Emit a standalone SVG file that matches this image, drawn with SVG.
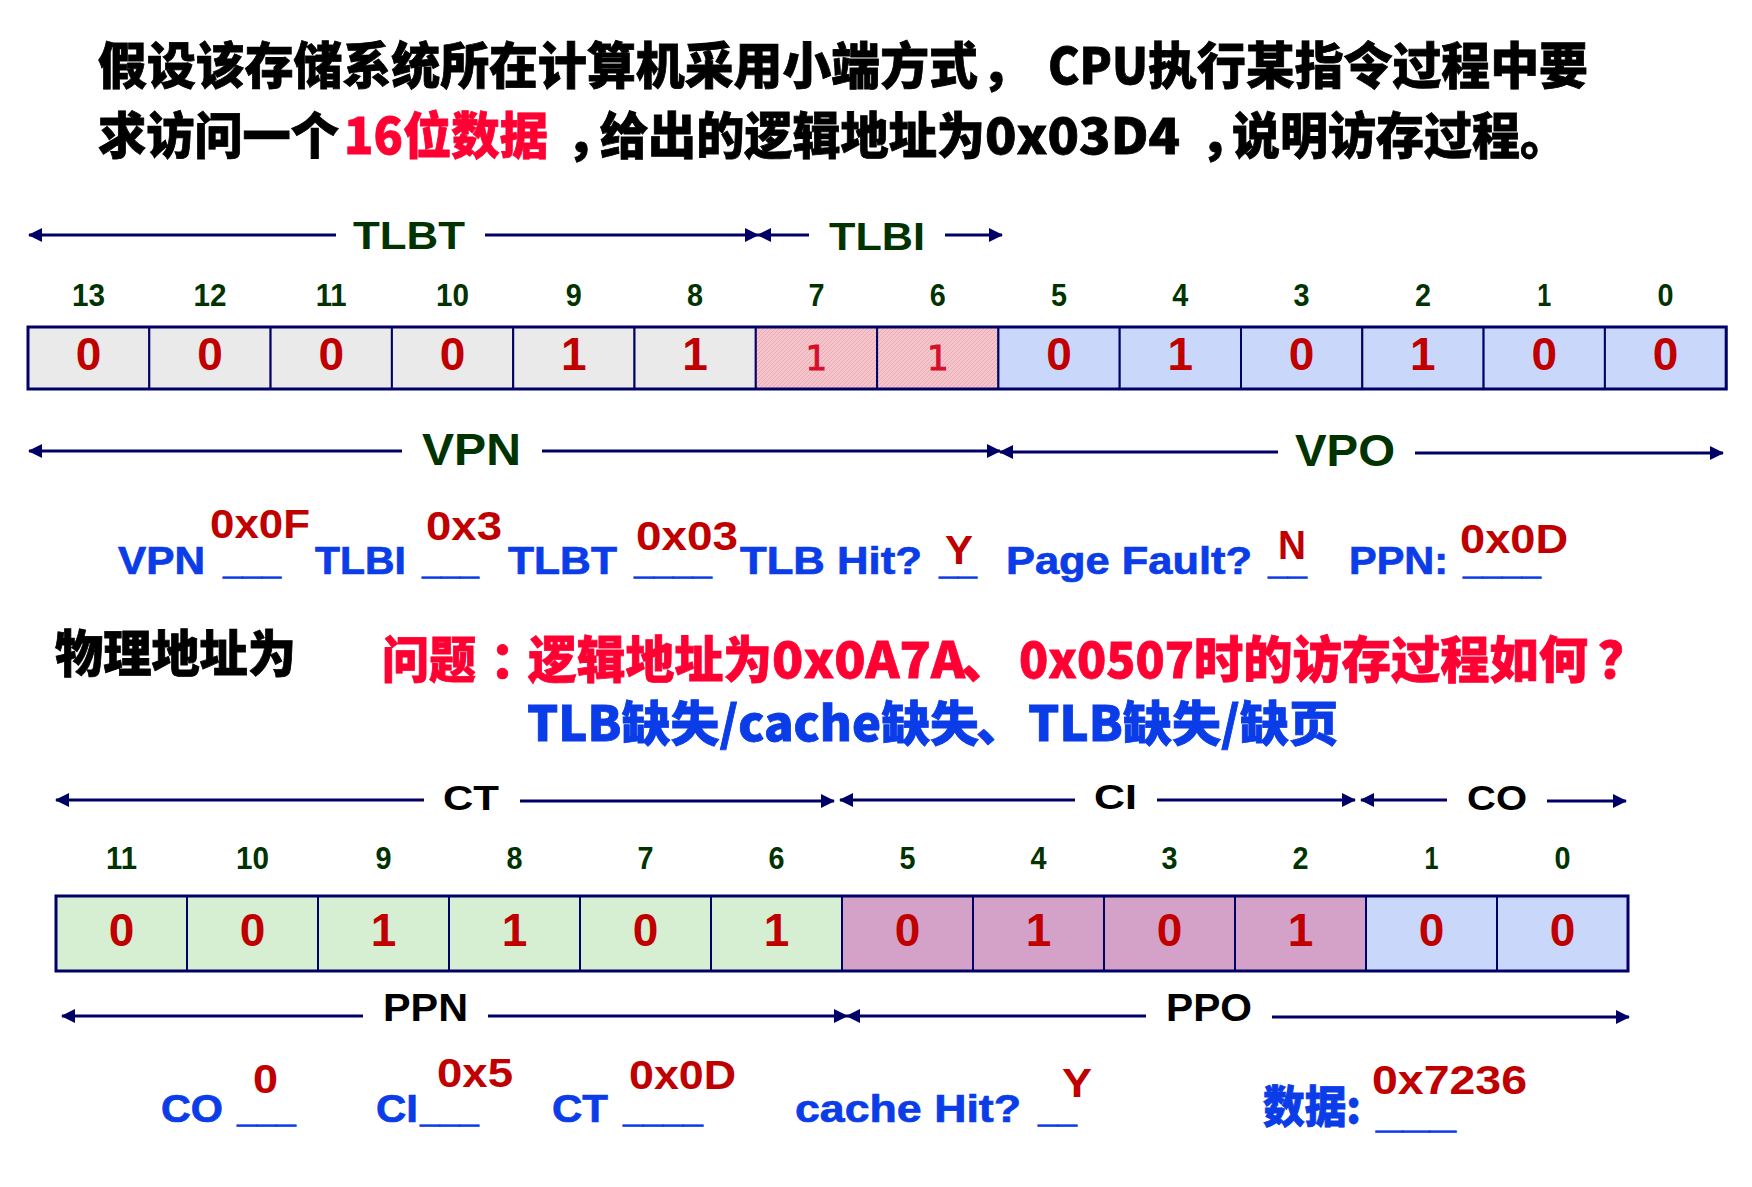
<svg xmlns="http://www.w3.org/2000/svg" width="1752" height="1187" viewBox="0 0 1752 1187">
<defs>
<style>
.cjk{font-family:"Noto Sans CJK SC","Noto Sans CJK TC",sans-serif;font-weight:900;stroke-width:0.8}
.tk{fill:#000000;stroke:#000000}
.tr{fill:#FF0033;stroke:#FF0033}
.tb{fill:#0A3CE8;stroke:#0A3CE8}
.hg{font-family:"Liberation Sans",Arial,sans-serif;font-weight:700;fill:#003300}
.hk{font-family:"Liberation Sans",Arial,sans-serif;font-weight:700;fill:#000000}
.num{font-family:"Liberation Sans",Arial,sans-serif;font-weight:700;font-size:31px;fill:#003300;text-anchor:middle}
.bit{font-family:"Liberation Sans",Arial,sans-serif;font-weight:700;font-size:46px;fill:#C00000;text-anchor:middle}
.bitp{font-family:"DejaVu Sans",sans-serif;font-size:34px;fill:#D4102A;stroke:#D4102A;stroke-width:1;text-anchor:middle}
.blue{font-family:"Liberation Sans",Arial,sans-serif;font-weight:700;font-size:39px;fill:#0A3CE8;stroke:#0A3CE8;stroke-width:0.7}
.ans{font-family:"Liberation Sans",Arial,sans-serif;font-weight:700;font-size:40px;fill:#C00000}
.cell{stroke:#000066;stroke-width:2}
.gray{fill:#EAEAEA}
.lblue{fill:#C9D7FB}
.green{fill:#D6EFD3}
.mauve{fill:#D4A2C8}
.pink{fill:url(#pinkhatch)}
.frame{fill:none;stroke:#000066;stroke-width:3}
.arr{stroke:#000066;stroke-width:3;fill:none}
</style>
<pattern id="pinkhatch" width="4" height="4" patternUnits="userSpaceOnUse">
<rect width="4" height="4" fill="#F5C5CC"/>
<path d="M0,4 L4,0 M-1,1 L1,-1 M3,5 L5,3" stroke="#EBAAB4" stroke-width="1"/>
</pattern>
<marker id="ah" viewBox="0 0 14 14" markerWidth="14" markerHeight="14" refX="13" refY="7" markerUnits="userSpaceOnUse" orient="auto-start-reverse">
<path d="M0,0 L14,7 L0,14 z" fill="#000066"/>
</marker>
</defs>
<rect width="1752" height="1187" fill="#FFFFFF"/>

<g id="title">
<text class="cjk tk" font-size="50" x="98" y="84" textLength="880" lengthAdjust="spacingAndGlyphs">假设该存储系统所在计算机采用小端方式</text>
<text class="cjk tk" font-size="50" x="981" y="84">，</text>
<text class="cjk tk" font-size="50" x="1048" y="84" textLength="100" lengthAdjust="spacingAndGlyphs">CPU</text>
<text class="cjk tk" font-size="50" x="1148" y="84" textLength="440" lengthAdjust="spacingAndGlyphs">执行某指令过程中要</text>
<text class="cjk tk" font-size="50" x="98" y="154" textLength="241" lengthAdjust="spacingAndGlyphs">求访问一个</text>
<text class="cjk tr" font-size="50" x="344" y="154" textLength="204" lengthAdjust="spacingAndGlyphs">16位数据</text>
<text class="cjk tk" font-size="50" x="566" y="154">，</text>
<text class="cjk tk" font-size="50" x="600" y="154" textLength="385" lengthAdjust="spacingAndGlyphs">给出的逻辑地址为</text>
<text class="cjk tk" font-size="50" x="985" y="154" textLength="195" lengthAdjust="spacingAndGlyphs">0x03D4</text>
<text class="cjk tk" font-size="50" x="1200" y="154">，</text>
<text class="cjk tk" font-size="50" x="1232" y="154" textLength="336" lengthAdjust="spacingAndGlyphs">说明访存过程。</text>
</g>

<g id="connectors">
<line class="arr" x1="29" y1="235" x2="336" y2="235" marker-start="url(#ah)"/>
<line class="arr" x1="485" y1="235" x2="758" y2="235" marker-end="url(#ah)"/>
<line class="arr" x1="758" y1="235" x2="809" y2="235" marker-start="url(#ah)"/>
<line class="arr" x1="945" y1="235" x2="1002" y2="235" marker-end="url(#ah)"/>

<line class="arr" x1="29" y1="451" x2="402" y2="451" marker-start="url(#ah)"/>
<line class="arr" x1="542" y1="451" x2="1000" y2="451" marker-end="url(#ah)"/>
<line class="arr" x1="1000" y1="452" x2="1278" y2="452" marker-start="url(#ah)"/>
<line class="arr" x1="1415" y1="453" x2="1723" y2="453" marker-end="url(#ah)"/>

<line class="arr" x1="56" y1="800" x2="424" y2="800" marker-start="url(#ah)"/>
<line class="arr" x1="520" y1="801" x2="834" y2="801" marker-end="url(#ah)"/>
<line class="arr" x1="840" y1="800" x2="1075" y2="800" marker-start="url(#ah)"/>
<line class="arr" x1="1157" y1="800" x2="1355" y2="800" marker-end="url(#ah)"/>
<line class="arr" x1="1361" y1="800" x2="1447" y2="800" marker-start="url(#ah)"/>
<line class="arr" x1="1547" y1="801" x2="1626" y2="801" marker-end="url(#ah)"/>

<line class="arr" x1="62" y1="1016" x2="363" y2="1016" marker-start="url(#ah)"/>
<line class="arr" x1="488" y1="1016" x2="847" y2="1016" marker-end="url(#ah)"/>
<line class="arr" x1="847" y1="1016" x2="1146" y2="1016" marker-start="url(#ah)"/>
<line class="arr" x1="1272" y1="1017" x2="1629" y2="1017" marker-end="url(#ah)"/>
</g>

<g id="row1-labels">
<text class="hg" font-size="38" x="353" y="249" textLength="112" lengthAdjust="spacingAndGlyphs">TLBT</text>
<text class="hg" font-size="38" x="829" y="250" textLength="96" lengthAdjust="spacingAndGlyphs">TLBI</text>
<text class="hg" font-size="44" x="422" y="465" textLength="99" lengthAdjust="spacingAndGlyphs">VPN</text>
<text class="hg" font-size="44" x="1295" y="466" textLength="100" lengthAdjust="spacingAndGlyphs">VPO</text>
</g>

<g id="row1-bitnums">
<text class="num" x="88.6" y="306" textLength="33" lengthAdjust="spacingAndGlyphs">13</text>
<text class="num" x="210" y="306" textLength="33" lengthAdjust="spacingAndGlyphs">12</text>
<text class="num" x="331.2" y="306" textLength="31" lengthAdjust="spacingAndGlyphs">11</text>
<text class="num" x="452.5" y="306" textLength="33" lengthAdjust="spacingAndGlyphs">10</text>
<text class="num" x="573.8" y="306" textLength="16" lengthAdjust="spacingAndGlyphs">9</text>
<text class="num" x="695.1" y="306" textLength="16" lengthAdjust="spacingAndGlyphs">8</text>
<text class="num" x="816.4" y="306" textLength="16" lengthAdjust="spacingAndGlyphs">7</text>
<text class="num" x="937.7" y="306" textLength="16" lengthAdjust="spacingAndGlyphs">6</text>
<text class="num" x="1059" y="306" textLength="16" lengthAdjust="spacingAndGlyphs">5</text>
<text class="num" x="1180.3" y="306" textLength="16" lengthAdjust="spacingAndGlyphs">4</text>
<text class="num" x="1301.6" y="306" textLength="16" lengthAdjust="spacingAndGlyphs">3</text>
<text class="num" x="1422.9" y="306" textLength="16" lengthAdjust="spacingAndGlyphs">2</text>
<text class="num" x="1544.2" y="306" textLength="14" lengthAdjust="spacingAndGlyphs">1</text>
<text class="num" x="1665.5" y="306" textLength="16" lengthAdjust="spacingAndGlyphs">0</text>
</g>

<g id="va-bit13"><rect class="cell gray" x="28" y="327" width="121.3" height="62"/><text class="bit" x="88.6" y="370">0</text></g>
<g id="va-bit12"><rect class="cell gray" x="149.3" y="327" width="121.3" height="62"/><text class="bit" x="210" y="370">0</text></g>
<g id="va-bit11"><rect class="cell gray" x="270.6" y="327" width="121.3" height="62"/><text class="bit" x="331.2" y="370">0</text></g>
<g id="va-bit10"><rect class="cell gray" x="391.9" y="327" width="121.3" height="62"/><text class="bit" x="452.5" y="370">0</text></g>
<g id="va-bit9"><rect class="cell gray" x="513.2" y="327" width="121.3" height="62"/><text class="bit" x="573.8" y="370">1</text></g>
<g id="va-bit8"><rect class="cell gray" x="634.5" y="327" width="121.3" height="62"/><text class="bit" x="695.1" y="370">1</text></g>
<g id="va-bit7"><rect class="cell pink" x="755.8" y="327" width="121.3" height="62"/><text class="bitp" x="816.4" y="370">1</text></g>
<g id="va-bit6"><rect class="cell pink" x="877.1" y="327" width="121.3" height="62"/><text class="bitp" x="937.7" y="370">1</text></g>
<g id="va-bit5"><rect class="cell lblue" x="998.4" y="327" width="121.3" height="62"/><text class="bit" x="1059" y="370">0</text></g>
<g id="va-bit4"><rect class="cell lblue" x="1119.7" y="327" width="121.3" height="62"/><text class="bit" x="1180.3" y="370">1</text></g>
<g id="va-bit3"><rect class="cell lblue" x="1241" y="327" width="121.3" height="62"/><text class="bit" x="1301.6" y="370">0</text></g>
<g id="va-bit2"><rect class="cell lblue" x="1362.3" y="327" width="121.3" height="62"/><text class="bit" x="1422.9" y="370">1</text></g>
<g id="va-bit1"><rect class="cell lblue" x="1483.6" y="327" width="121.3" height="62"/><text class="bit" x="1544.2" y="370">0</text></g>
<g id="va-bit0"><rect class="cell lblue" x="1604.9" y="327" width="121.3" height="62"/><text class="bit" x="1665.5" y="370">0</text></g>
<rect class="frame" x="28" y="327" width="1698.2" height="62"/>

<g id="row1-fill">
<text class="blue" x="118" y="574" textLength="87" lengthAdjust="spacingAndGlyphs">VPN</text>
<text class="blue" x="223" y="574" textLength="58" lengthAdjust="spacingAndGlyphs">___</text>
<text class="blue" x="315" y="574" textLength="91" lengthAdjust="spacingAndGlyphs">TLBI</text>
<text class="blue" x="422" y="574" textLength="57" lengthAdjust="spacingAndGlyphs">___</text>
<text class="blue" x="508" y="574" textLength="109" lengthAdjust="spacingAndGlyphs">TLBT</text>
<text class="blue" x="634" y="574" textLength="78" lengthAdjust="spacingAndGlyphs">____</text>
<text class="blue" x="740" y="574" textLength="182" lengthAdjust="spacingAndGlyphs">TLB Hit?</text>
<text class="blue" x="939" y="574" textLength="38" lengthAdjust="spacingAndGlyphs">__</text>
<text class="blue" x="1006" y="574" textLength="246" lengthAdjust="spacingAndGlyphs">Page Fault?</text>
<text class="blue" x="1268" y="574" textLength="39" lengthAdjust="spacingAndGlyphs">__</text>
<text class="blue" x="1349" y="574" textLength="99" lengthAdjust="spacingAndGlyphs">PPN:</text>
<text class="blue" x="1463" y="574" textLength="78" lengthAdjust="spacingAndGlyphs">____</text>
<text class="ans" x="210" y="538" textLength="100" lengthAdjust="spacingAndGlyphs">0x0F</text>
<text class="ans" x="426" y="540" textLength="76" lengthAdjust="spacingAndGlyphs">0x3</text>
<text class="ans" x="636" y="550" textLength="102" lengthAdjust="spacingAndGlyphs">0x03</text>
<text class="ans" x="945" y="564" textLength="28" lengthAdjust="spacingAndGlyphs">Y</text>
<text class="ans" x="1278" y="559" textLength="28" lengthAdjust="spacingAndGlyphs">N</text>
<text class="ans" x="1460" y="553" textLength="108" lengthAdjust="spacingAndGlyphs">0x0D</text>
</g>

<g id="question">
<text class="cjk tk" font-size="50" x="55" y="672" textLength="241" lengthAdjust="spacingAndGlyphs">物理地址为</text>
<text class="cjk tr" font-size="50" x="382" y="678" textLength="94" lengthAdjust="spacingAndGlyphs">问题</text>
<text class="cjk tr" font-size="50" x="490" y="678">：</text>
<text class="cjk tr" font-size="50" x="528" y="678" textLength="244" lengthAdjust="spacingAndGlyphs">逻辑地址为</text>
<text class="cjk tr" font-size="50" x="772" y="678" textLength="193" lengthAdjust="spacingAndGlyphs">0x0A7A</text>
<text class="cjk tr" font-size="50" x="961" y="678">、</text>
<text class="cjk tr" font-size="50" x="1019" y="678" textLength="175" lengthAdjust="spacingAndGlyphs">0x0507</text>
<text class="cjk tr" font-size="50" x="1194" y="678" textLength="394" lengthAdjust="spacingAndGlyphs">时的访存过程如何</text>
<text class="cjk tr" font-size="50" x="1598" y="678">？</text>
<text class="cjk tb" font-size="48" x="527" y="741" textLength="452" lengthAdjust="spacingAndGlyphs">TLB缺失/cache缺失</text>
<text class="cjk tb" font-size="48" x="976" y="741">、</text>
<text class="cjk tb" font-size="48" x="1028" y="741" textLength="310" lengthAdjust="spacingAndGlyphs">TLB缺失/缺页</text>
</g>

<g id="row2-labels">
<text class="hk" font-size="35" x="443" y="810" textLength="56" lengthAdjust="spacingAndGlyphs">CT</text>
<text class="hk" font-size="35" x="1094" y="809" textLength="43" lengthAdjust="spacingAndGlyphs">CI</text>
<text class="hk" font-size="35" x="1467" y="810" textLength="60" lengthAdjust="spacingAndGlyphs">CO</text>
<text class="hk" font-size="38" x="383" y="1021" textLength="85" lengthAdjust="spacingAndGlyphs">PPN</text>
<text class="hk" font-size="38" x="1166" y="1021" textLength="86" lengthAdjust="spacingAndGlyphs">PPO</text>
</g>

<g id="row2-bitnums">
<text class="num" x="121.5" y="869" textLength="31" lengthAdjust="spacingAndGlyphs">11</text>
<text class="num" x="252.5" y="869" textLength="33" lengthAdjust="spacingAndGlyphs">10</text>
<text class="num" x="383.5" y="869" textLength="16" lengthAdjust="spacingAndGlyphs">9</text>
<text class="num" x="514.5" y="869" textLength="16" lengthAdjust="spacingAndGlyphs">8</text>
<text class="num" x="645.5" y="869" textLength="16" lengthAdjust="spacingAndGlyphs">7</text>
<text class="num" x="776.5" y="869" textLength="16" lengthAdjust="spacingAndGlyphs">6</text>
<text class="num" x="907.5" y="869" textLength="16" lengthAdjust="spacingAndGlyphs">5</text>
<text class="num" x="1038.5" y="869" textLength="16" lengthAdjust="spacingAndGlyphs">4</text>
<text class="num" x="1169.5" y="869" textLength="16" lengthAdjust="spacingAndGlyphs">3</text>
<text class="num" x="1300.5" y="869" textLength="16" lengthAdjust="spacingAndGlyphs">2</text>
<text class="num" x="1431.5" y="869" textLength="14" lengthAdjust="spacingAndGlyphs">1</text>
<text class="num" x="1562.5" y="869" textLength="16" lengthAdjust="spacingAndGlyphs">0</text>
</g>

<g id="pa-bit11"><rect class="cell green" x="56" y="896" width="131" height="75"/><text class="bit" x="121.5" y="946">0</text></g>
<g id="pa-bit10"><rect class="cell green" x="187" y="896" width="131" height="75"/><text class="bit" x="252.5" y="946">0</text></g>
<g id="pa-bit9"><rect class="cell green" x="318" y="896" width="131" height="75"/><text class="bit" x="383.5" y="946">1</text></g>
<g id="pa-bit8"><rect class="cell green" x="449" y="896" width="131" height="75"/><text class="bit" x="514.5" y="946">1</text></g>
<g id="pa-bit7"><rect class="cell green" x="580" y="896" width="131" height="75"/><text class="bit" x="645.5" y="946">0</text></g>
<g id="pa-bit6"><rect class="cell green" x="711" y="896" width="131" height="75"/><text class="bit" x="776.5" y="946">1</text></g>
<g id="pa-bit5"><rect class="cell mauve" x="842" y="896" width="131" height="75"/><text class="bit" x="907.5" y="946">0</text></g>
<g id="pa-bit4"><rect class="cell mauve" x="973" y="896" width="131" height="75"/><text class="bit" x="1038.5" y="946">1</text></g>
<g id="pa-bit3"><rect class="cell mauve" x="1104" y="896" width="131" height="75"/><text class="bit" x="1169.5" y="946">0</text></g>
<g id="pa-bit2"><rect class="cell mauve" x="1235" y="896" width="131" height="75"/><text class="bit" x="1300.5" y="946">1</text></g>
<g id="pa-bit1"><rect class="cell lblue" x="1366" y="896" width="131" height="75"/><text class="bit" x="1431.5" y="946">0</text></g>
<g id="pa-bit0"><rect class="cell lblue" x="1497" y="896" width="131" height="75"/><text class="bit" x="1562.5" y="946">0</text></g>
<rect class="frame" x="56" y="896" width="1572" height="75"/>

<g id="row2-fill">
<text class="blue" x="161" y="1122" textLength="62" lengthAdjust="spacingAndGlyphs">CO</text>
<text class="blue" x="237" y="1122" textLength="59" lengthAdjust="spacingAndGlyphs">___</text>
<text class="blue" x="376" y="1122" textLength="42" lengthAdjust="spacingAndGlyphs">CI</text>
<text class="blue" x="420" y="1122" textLength="59" lengthAdjust="spacingAndGlyphs">___</text>
<text class="blue" x="552" y="1122" textLength="56" lengthAdjust="spacingAndGlyphs">CT</text>
<text class="blue" x="623" y="1122" textLength="80" lengthAdjust="spacingAndGlyphs">____</text>
<text class="blue" x="795" y="1122" textLength="226" lengthAdjust="spacingAndGlyphs">cache Hit?</text>
<text class="blue" x="1038" y="1122" textLength="39" lengthAdjust="spacingAndGlyphs">__</text>
<text class="cjk tb" font-size="44" x="1263" y="1123" textLength="98" lengthAdjust="spacingAndGlyphs">数据:</text>
<text class="blue" x="1376" y="1128" textLength="80" lengthAdjust="spacingAndGlyphs">___</text>
<text class="ans" x="253" y="1093" textLength="25" lengthAdjust="spacingAndGlyphs">0</text>
<text class="ans" x="437" y="1087" textLength="76" lengthAdjust="spacingAndGlyphs">0x5</text>
<text class="ans" x="629" y="1089" textLength="107" lengthAdjust="spacingAndGlyphs">0x0D</text>
<text class="ans" x="1062" y="1097" textLength="30" lengthAdjust="spacingAndGlyphs">Y</text>
<text class="ans" x="1372" y="1094" textLength="155" lengthAdjust="spacingAndGlyphs">0x7236</text>
</g>
</svg>
